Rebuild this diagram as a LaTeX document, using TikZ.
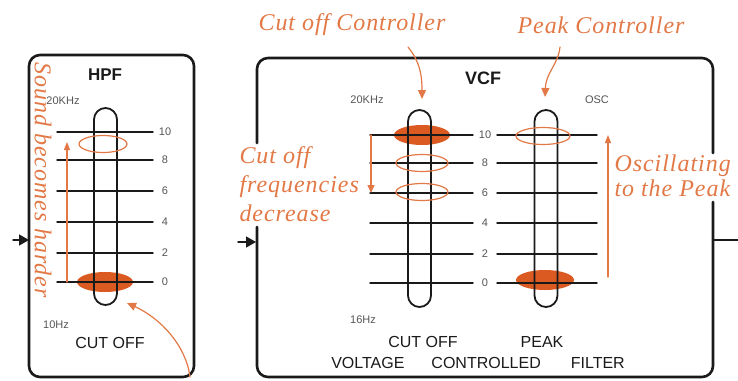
\documentclass[tikz,border=0pt]{standalone}
\usepackage{fontspec}
\setmainfont{Liberation Serif}
\setsansfont{Liberation Sans}
\newfontfamily\notefont[LetterSpace=4]{Liberation Serif}
\usetikzlibrary{positioning,arrows.meta,shapes.geometric,calc}
\definecolor{rust}{HTML}{DA5A22}
\definecolor{peach}{HTML}{E27845}
\definecolor{ink}{HTML}{1A1A1A}
\definecolor{grey}{HTML}{555555}

\begin{document}
\begin{tikzpicture}[x=1pt, y=-1pt, line cap=round, line join=round,
  panel/.style={ink, line width=2.6pt, rounded corners=11pt},
  rail/.style={ink, line width=1.4pt},
  track/.style={draw=ink, line width=1.8pt, rounded corners=11.5pt, minimum width=23pt, minimum height=197pt, inner sep=0pt},
  knob/.style={ellipse, fill=rust, minimum width=56pt, minimum height=20pt, inner sep=0pt},
  ring/.style={ellipse, draw=peach, line width=1.2pt, minimum width=52pt, minimum height=17pt, inner sep=0pt},
  note/.style={peach, font=\notefont\itshape\fontsize{24}{25}\selectfont},
  hint/.style={peach, line width=1.2pt, -{Triangle[length=9pt,width=8pt]}},
  feed/.style={ink, line width=1.5pt, -{Triangle[length=10pt,width=11pt]}},
  tag/.style={grey, font=\sffamily\fontsize{11}{11}\selectfont},
  caption/.style={ink, font=\sffamily\fontsize{16}{16}\selectfont}]
  \useasboundingbox (0,0) rectangle (738,380);

  % HPF panel
  \draw[panel] (29,55) rectangle (194,377);
  \coordinate (hpfsrc) at (13,240);
  \coordinate (hpfin) at (29,240);
  \draw[feed] (hpfsrc) -- (hpfin);
  \node[ink, font=\sffamily\bfseries\fontsize{17}{17}\selectfont] (hpftitle) at (105,75) {HPF};
  \node[tag] (hpftop) at (63,101) {20KHz};
  \node[tag] (hpfbot) at (56,325) {10Hz};
  \node[caption] (hpfcap) at (110,343) {CUT OFF};
  \node[knob] (hpfknob) at (105,282) {};
  \foreach \v/\y in {10/132,8/160,6/191,4/222,2/253,0/282} {
    \draw[rail] (57,\y) -- (153,\y);
    \node[tag] at (165,\y) {\v};
  }
  \node[track] (hpftrack) at (105.5,206.5) {};
  \node[ring, minimum width=48pt] (hpfring) at (103,144) {};

  % VCF panel, outline broken by the notes
  \draw[panel] (257,143) -- (257,58) -- (713,58) -- (713,153);
  \draw[panel] (713,202) -- (713,377) -- (257,377) -- (257,227);
  \coordinate (vcfsrc) at (238,242);
  \coordinate (vcfin) at (256,242);
  \draw[feed] (vcfsrc) -- (vcfin);
  \coordinate (vcfout) at (713,240);
  \coordinate (vcfend) at (738,240);
  \draw[panel] (vcfout) -- (vcfend);
  \node[ink, font=\sffamily\bfseries\fontsize{18}{18}\selectfont] (vcftitle) at (483,78) {VCF};
  \node[tag] (vcftop) at (367,100) {20KHz};
  \node[tag] (osc) at (597,100) {OSC};
  \node[tag] (vcfbot) at (363,320) {16Hz};
  \node[caption] (cutcap) at (423,342) {CUT OFF};
  \node[caption] (peakcap) at (542,342) {PEAK};
  \node[caption] (vcfname) at (478,363) {VOLTAGE\hspace{27pt}CONTROLLED\hspace{30pt}FILTER};
  \node[knob] (cutknob) at (422,135) {};
  \node[knob, minimum width=58pt] (peakknob) at (545,280) {};
  \foreach \v/\y in {10/135,8/163,6/193,4/223,2/254,0/283} {
    \draw[rail] (370,\y) -- (473,\y);
    \node[tag] at (485,\y) {\v};
    \draw[rail] (497,\y) -- (597,\y);
  }
  \node[track] (cuttrack) at (419.5,208.5) {};
  \node[track] (peaktrack) at (546,208.5) {};
  \node[ring] (cutring8) at (422,163) {};
  \node[ring] (cutring6) at (422,192) {};
  \node[ring, minimum width=54pt] (peakring) at (543,136) {};

  % notes in orange
  \node[note] (soundnote) at (43,180) [rotate=-90] {Sound becomes harder};
  \coordinate (soundlow) at (67,282);
  \coordinate (soundhigh) at (67,142);
  \draw[hint, -{Triangle[length=8pt,width=6pt]}] (soundlow) -- (soundhigh);
  \coordinate (hpffrom) at (190,377);
  \coordinate (hpfto) at (127,303);
  \draw[hint] (hpffrom) .. controls (186,345) and (160,318) .. (hpfto);

  \node[note] (cutnote) at (352,25) {Cut off Controller};
  \coordinate (cutfrom) at (408,47);
  \coordinate (cutto) at (422,99);
  \draw[hint] (cutfrom) .. controls (420,62) and (422,75) .. (cutto);
  \node[note] (peaknote) at (601,25) {Peak Controller};
  \coordinate (peakfrom) at (560,47);
  \coordinate (peakto) at (545,97);
  \draw[hint] (peakfrom) .. controls (558,65) and (546,72) .. (peakto);

  \node[note, align=left, anchor=west, font=\notefont\itshape\fontsize{24}{29}\selectfont] (freqnote) at (236,184) {Cut off\\frequencies\\decrease};
  \coordinate (freqtop) at (371,135);
  \coordinate (freqlow) at (371,193);
  \draw[hint, -{Triangle[length=8pt,width=7pt]}] (freqtop) -- (freqlow);
  \node[note, align=left, anchor=west] (oscnote) at (611,176) {Oscillating\\to the Peak};
  \coordinate (osclow) at (608,277);
  \coordinate (oschigh) at (608,135);
  \draw[hint, -{Triangle[length=8pt,width=6pt]}] (osclow) -- (oschigh);
\end{tikzpicture}
\end{document}
